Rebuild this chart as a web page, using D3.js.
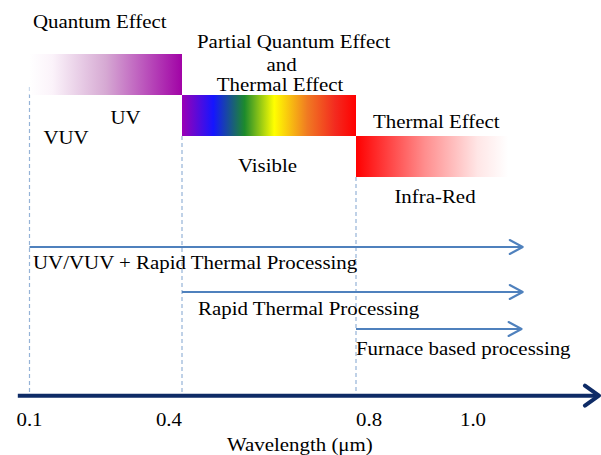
<!DOCTYPE html>
<html>
<head>
<meta charset="utf-8">
<script src="https://cdn.jsdelivr.net/npm/d3@7/dist/d3.min.js"></script>
<style>
  html, body { margin: 0; padding: 0; background: #fff; }
  svg { display: block; }
</style>
</head>
<body>
<script>
// ---------------- data ----------------
const bands       = ["UV", "Visible", "Infra-Red"];
const bandStart   = [0.1, 0.4, 0.8];
const bandEnd     = [0.4, 0.8, 1.06];
const effects     = [["Quantum Effect"], ["Partial Quantum Effect", "and", "Thermal Effect"], ["Thermal Effect"]];
const bandLabels  = [["VUV", "UV"], ["Visible"], ["Infra-Red"]];
const processes     = ["UV/VUV + Rapid Thermal Processing", "Rapid Thermal Processing", "Furnace based processing"];
const processStart  = [0.1, 0.4, 0.8];
const processEnd    = [1.085, 1.085, 1.083];
const tickValues  = [0.1, 0.4, 0.8, 1.0];
const tickLabels  = ["0.1", "0.4", "0.8", "1.0"];
const axisDomain  = [0.077, 1.217];
const axisTitle   = "Wavelength (\u03bcm)";

// ---------------- layout / style ----------------
const W = 601, H = 455;
const FS = 18.5, SX = 1.13;
const svg = d3.select("body").append("svg").attr("width", W).attr("height", H);

// schematic (piecewise) wavelength scale
const x = d3.scaleLinear().domain([0.1, 0.4, 0.8, 1.0]).range([29.5, 182, 356, 473]);
const y = d3.scaleBand().domain(bands).range([54, 177]).padding(0);
const yProc = d3.scaleOrdinal().domain(processes).range([247, 292, 329]);
const axisY = 395.7;

// gradients
const defs = svg.append("defs");
const gradStops = {
  "UV": [[0, "#ffffff"], [0.15, "#fbf3fa"], [0.5, "#d6a9d3"], [1, "#a103a6"]],
  "Visible": [[0, "#9b00b5"], [0.18, "#1515ff"], [0.36, "#1c8a2c"], [0.53, "#ffff00"], [0.72, "#f07a22"], [0.88, "#f32a1f"], [1, "#ff0000"]],
  "Infra-Red": [[0, "#ff0000"], [0.45, "#ff8d8d"], [0.8, "#ffe6e6"], [1, "#ffffff"]]
};
bands.forEach((b, i) => {
  const g = defs.append("linearGradient").attr("id", "g" + i)
    .attr("x1", "0%").attr("x2", "100%").attr("y1", "0%").attr("y2", "0%");
  gradStops[b].forEach(s => g.append("stop").attr("offset", s[0]).attr("stop-color", s[1]));
});

// dashed guide lines
const guideTop = [y("UV") + y.bandwidth() - 8, y("Visible") + y.bandwidth(), y("Infra-Red") + y.bandwidth()];
svg.append("g").selectAll("line").data(bandStart).join("line")
  .attr("x1", d => x(d)).attr("x2", d => x(d))
  .attr("y1", (d, i) => guideTop[i]).attr("y2", axisY)
  .attr("stroke", "#95b3d7").attr("stroke-width", 1.2).attr("stroke-dasharray", "4,3");

// bars
svg.append("g").selectAll("rect").data(bands).join("rect")
  .attr("x", (d, i) => x(bandStart[i]))
  .attr("width", (d, i) => x(bandEnd[i]) - x(bandStart[i]))
  .attr("y", d => y(d)).attr("height", y.bandwidth())
  .attr("fill", (d, i) => `url(#g${i})`);

function txt(str, px, py, anchor) {
  svg.append("text")
    .attr("transform", `translate(${px},${py}) scale(${SX},1)`)
    .attr("text-anchor", anchor || "start")
    .style("font-family", "Liberation Serif")
    .style("font-size", FS + "px").attr("fill", "#000")
    .text(str);
}

// effect labels (above bars)
const effPos = [
  [{ dx: 3.5, by: 28, a: "start" }],
  [{ dx: 15, by: 48, a: "start" }, { dx: 99.5, by: 70.5, a: "middle" }, { dx: 98, by: 91, a: "middle" }],
  [{ dx: 17, by: 128, a: "start" }]
];
effects.forEach((lines, i) => {
  lines.forEach((l, j) => {
    const p = effPos[i][j];
    txt(l, x(bandStart[i]) + p.dx, p.by, p.a);
  });
});

// band labels (below bars)
const bandLabPos = [
  [{ dx: 36.5, dy: 49 }, { dx: 96, dy: 29 }],
  [{ dx: 85.5, dy: 36 }],
  [{ dx: 79, dy: 26 }]
];
bandLabels.forEach((labs, i) => {
  labs.forEach((l, j) => {
    const p = bandLabPos[i][j];
    txt(l, x(bandStart[i]) + p.dx, y(bands[i]) + y.bandwidth() + p.dy, "middle");
  });
});

// process arrows
const arrowBlue = "#4f81bd";
const pg = svg.append("g");
processes.forEach((p, i) => {
  const yy = yProc(p), x0 = x(processStart[i]), x1 = x(processEnd[i]);
  pg.append("line").attr("x1", x0).attr("x2", x1 - 1).attr("y1", yy).attr("y2", yy)
    .attr("stroke", arrowBlue).attr("stroke-width", 2);
  pg.append("path")
    .attr("d", d3.line()([[x1 - 13, yy - 7], [x1, yy], [x1 - 13, yy + 7]]))
    .attr("fill", "none").attr("stroke", arrowBlue).attr("stroke-width", 2)
    .attr("stroke-linecap", "round").attr("stroke-linejoin", "round");
});
const procLabPos = [{ dx: 3.5, dy: 22 }, { dx: 16, dy: 23 }, { dx: 0, dy: 26 }];
processes.forEach((p, i) => {
  txt(p, x(processStart[i]) + procLabPos[i].dx, yProc(p) + procLabPos[i].dy, "start");
});

// axis
const navy = "#0e2b66";
const ax0 = x(axisDomain[0]), ax1 = x(axisDomain[1]);
svg.append("line").attr("x1", ax0).attr("x2", ax1 - 2).attr("y1", axisY).attr("y2", axisY)
  .attr("stroke", navy).attr("stroke-width", 4);
svg.append("path")
  .attr("d", d3.line()([[ax1 - 15, axisY - 10], [ax1 - 1, axisY], [ax1 - 15, axisY + 10]]))
  .attr("fill", "none").attr("stroke", navy).attr("stroke-width", 4)
  .attr("stroke-linecap", "round").attr("stroke-linejoin", "round");

const tickAnchor = ["middle", "end", "start", "middle"];
tickValues.forEach((v, i) => txt(tickLabels[i], x(v), 425.5, tickAnchor[i]));

txt(axisTitle, (ax0 + ax1) / 2 - 9, 451, "middle");
</script>
</body>
</html>
